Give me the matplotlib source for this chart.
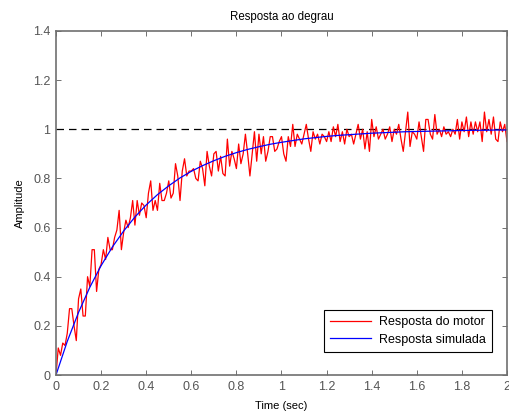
import numpy as np
import matplotlib
matplotlib.use('Agg')
import matplotlib.pyplot as plt

# amostras do motor (dt = 0.01 s)
t_motor = np.arange(201) * 0.01
y_motor = [
    0.00, 0.11, 0.08, 0.13, 0.12, 0.17, 0.27, 0.27, 0.20, 0.14,
    0.31, 0.35, 0.24, 0.24, 0.40, 0.36, 0.51, 0.51, 0.34, 0.43,
    0.45, 0.51, 0.47, 0.56, 0.51, 0.51, 0.56, 0.59, 0.67, 0.51,
    0.58, 0.63, 0.60, 0.64, 0.71, 0.61, 0.71, 0.65, 0.70, 0.69,
    0.64, 0.74, 0.79, 0.67, 0.71, 0.67, 0.78, 0.71, 0.71, 0.74,
    0.79, 0.72, 0.74, 0.86, 0.81, 0.71, 0.83, 0.88, 0.81, 0.83,
    0.83, 0.84, 0.80, 0.79, 0.87, 0.84, 0.77, 0.91, 0.85, 0.81,
    0.90, 0.91, 0.83, 0.89, 0.82, 0.81, 0.96, 0.85, 0.91, 0.88,
    0.84, 0.94, 0.86, 0.90, 0.98, 0.90, 0.81, 0.90, 0.99, 0.87,
    0.98, 0.90, 0.97, 0.87, 0.91, 0.97, 0.97, 0.91, 0.92, 0.95,
    0.97, 0.90, 0.87, 0.97, 0.93, 1.02, 0.93, 0.98, 0.96, 0.94,
    0.98, 1.02, 0.96, 0.91, 0.99, 0.96, 0.98, 0.94, 0.98, 0.97,
    0.95, 0.99, 0.95, 1.01, 0.97, 1.02, 0.95, 0.99, 0.94, 1.00,
    0.97, 0.98, 0.94, 0.98, 1.02, 0.96, 1.00, 0.92, 0.99, 0.91,
    1.04, 0.97, 1.01, 0.96, 0.98, 1.00, 0.96, 0.98, 1.01, 0.95,
    1.00, 0.98, 1.02, 0.96, 0.91, 0.99, 1.07, 0.93, 0.99, 0.98,
    0.96, 1.03, 0.97, 0.91, 1.04, 1.04, 0.98, 0.96, 1.06, 0.98,
    1.00, 0.97, 1.01, 0.98, 0.99, 0.97, 1.00, 0.98, 1.04, 0.96,
    1.03, 0.99, 1.05, 0.97, 1.03, 0.98, 1.03, 0.99, 1.03, 0.95,
    1.07, 0.99, 1.04, 0.98, 1.05, 0.96, 0.95, 1.03, 0.99, 1.02,
    0.95,
]

# resposta do modelo (dt = 0.05 s)
t_sim = np.arange(41) * 0.05
y_sim = [
    0.000, 0.137, 0.255, 0.357, 0.445, 0.521, 0.586, 0.643, 0.692, 0.734,
    0.770, 0.802, 0.829, 0.852, 0.872, 0.890, 0.905, 0.918, 0.929, 0.939,
    0.947, 0.954, 0.961, 0.966, 0.971, 0.975, 0.978, 0.981, 0.984, 0.986,
    0.988, 0.990, 0.991, 0.992, 0.993, 0.994, 0.995, 0.996, 0.996, 0.997,
    0.997,
]

x_ticks = [0, 0.2, 0.4, 0.6, 0.8, 1, 1.2, 1.4, 1.6, 1.8, 2]
x_labels = ['0', '0.2', '0.4', '0.6', '0.8', '1', '1.2', '1.4', '1.6', '1.8', '2']
y_ticks = [0, 0.2, 0.4, 0.6, 0.8, 1, 1.2, 1.4]
y_labels = ['0', '0.2', '0.4', '0.6', '0.8', '1', '1.2', '1.4']

plt.rcParams['font.family'] = ['Liberation Sans', 'DejaVu Sans']
plt.rcParams['font.size'] = 8

fig = plt.figure(figsize=(5.10, 4.12), dpi=100)
ax = fig.add_axes([0.1098, 0.0898, 0.8843, 0.835])

ax.plot([0, 2], [1, 1], color='black', lw=0.9, dashes=(6, 4))
ax.plot(t_motor, y_motor, color='red', lw=0.9, label='Resposta do motor')
ax.plot(t_sim, y_sim, color='blue', lw=0.9, label='Resposta simulada')

ax.set_xlim(0, 2)
ax.set_ylim(0, 1.4)
ax.set_xticks(x_ticks)
ax.set_xticklabels(x_labels)
ax.set_yticks(y_ticks)
ax.set_yticklabels(y_labels)

for s in ax.spines.values():
    s.set_color('#707070')
    s.set_linewidth(1.2)
ax.tick_params(direction='in', length=3.5, width=0.7, color='#707070',
               labelcolor='#555555', labelsize=9, top=True, right=True, pad=4)

ax.set_title('Resposta ao degrau', fontsize=8.3, pad=8)
ax.set_xlabel('Time (sec)', fontsize=8, labelpad=6)
ax.set_ylabel('Amplitude', fontsize=8, labelpad=6)

leg = ax.legend(loc='lower right', bbox_to_anchor=(0.967, 0.067), borderaxespad=0,
                fancybox=False, framealpha=1, edgecolor='black', handlelength=3.3,
                handletextpad=0.6, borderpad=0.5, labelspacing=0.45, fontsize=9)
leg.get_frame().set_linewidth(0.8)

fig.savefig('out.png', dpi=100)
